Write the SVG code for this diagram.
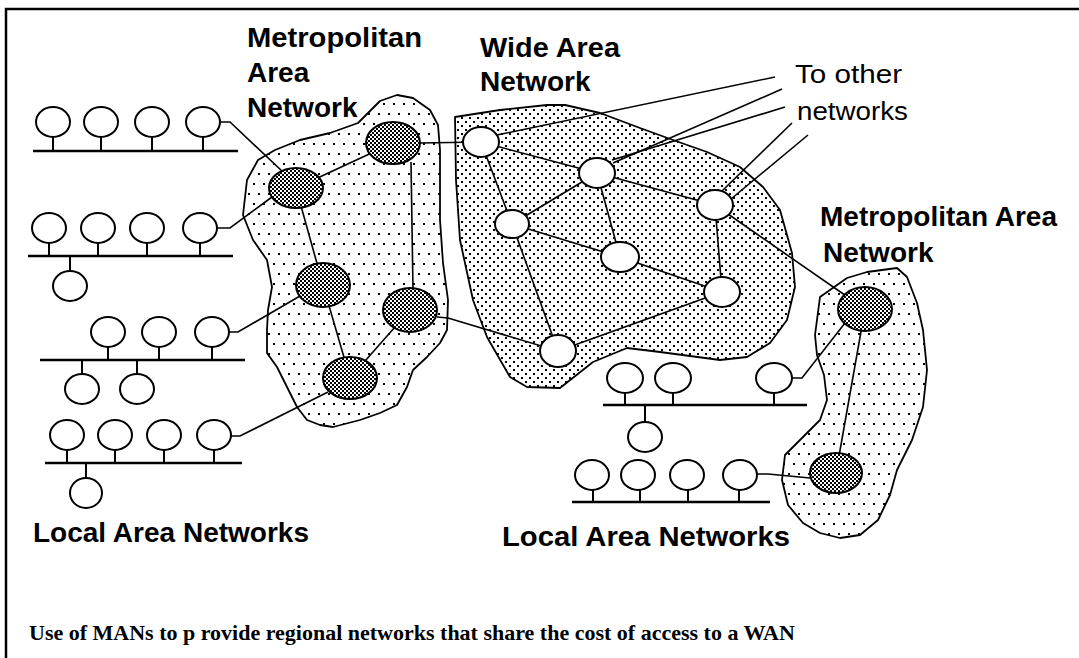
<svg xmlns="http://www.w3.org/2000/svg" width="1079" height="658" viewBox="0 0 1079 658">
<defs>
<pattern id="dotsLight" width="10" height="20" patternUnits="userSpaceOnUse"><rect x="3" y="3" width="2" height="2"/><rect x="8" y="13" width="2" height="2"/></pattern>
<pattern id="dotsDense" width="8" height="8" patternUnits="userSpaceOnUse"><rect x="1" y="1" width="2" height="2"/><rect x="5" y="5" width="2" height="2"/></pattern>
<pattern id="checker" width="4" height="4" patternUnits="userSpaceOnUse"><rect width="4" height="4" fill="#fff"/><rect width="2" height="2"/><rect x="2" y="2" width="2" height="2"/></pattern>
</defs>
<style>
.region{stroke:#000;stroke-width:1.8;stroke-linejoin:round}
.man{fill:url(#dotsLight)}
.wan{fill:url(#dotsDense)}
.conn line,.conn polyline{stroke:#000;stroke-width:1.6;fill:none}
.lan ellipse{fill:#fff;stroke:#000;stroke-width:2}
.lan line{stroke:#000;stroke-width:2}
.lan .bus{stroke-width:2.5}
.mnode{fill:url(#checker);stroke:#000;stroke-width:2}
.wnode{fill:#fff;stroke:#000;stroke-width:2}
.lbl{font-family:"Liberation Sans",Arial,sans-serif;font-weight:bold;font-size:28px;fill:#000}
.note{font-family:"Liberation Sans",Arial,sans-serif;font-size:26px;fill:#000}
.cap{font-family:"Liberation Serif","Times New Roman",serif;font-weight:bold;font-size:22px;fill:#000}
</style>
<rect width="1079" height="658" fill="#fff"/>
<path d="M6,658 V9 H1079" fill="none" stroke="#000" stroke-width="2.5"/>

<g id="regions">
<polygon id="man-left" class="region man" points="243,215 247,180 258,160 275,150 300,140 330,133 358,123 380,101 397,95 413,98 430,110 438,125 440,150 440,220 443,263 448,300 447,330 440,343 427,357 413,370 407,387 397,405 380,413 360,420 333,427 320,425 307,420 297,407 287,387 277,367 267,353 267,330 268,310 272,287 267,260 253,240"/>
<polygon id="wan" class="region wan" points="455,117 500,110 547,105 565,105 600,113 640,128 673,140 707,152 740,167 763,187 780,210 792,253 795,287 787,320 770,343 747,357 720,360 660,352 627,348 593,362 560,388 527,387 510,377 487,337 473,300 460,240 456,180"/>
<polygon id="man-right" class="region man" points="820,297 847,278 867,272 897,268 907,277 917,303 923,330 927,370 923,407 912,440 897,470 890,495 878,520 860,535 840,538 820,533 803,523 788,505 782,480 785,455 800,440 820,420 827,400 824,375 817,355 815,335"/>
</g>

<g id="connectors" class="conn">
<polyline points="221,122 230,122 283,172"/>
<polyline points="218,228 230,228 272,197"/>
<polyline points="229,332 238,332 300,296"/>
<polyline points="231,436 240,436 328,392"/>
<line x1="296" y1="188" x2="393" y2="143"/>
<line x1="296" y1="188" x2="323" y2="285"/>
<line x1="323" y1="285" x2="350" y2="378"/>
<line x1="411" y1="162" x2="413" y2="290"/>
<line x1="410" y1="310" x2="350" y2="378"/>
<polyline points="437,317 448,318 558,351"/>
<line x1="420" y1="143" x2="481" y2="142"/>
<line x1="481" y1="142" x2="597" y2="173"/>
<line x1="481" y1="142" x2="512" y2="224"/>
<line x1="597" y1="173" x2="512" y2="224"/>
<line x1="597" y1="173" x2="620" y2="257"/>
<line x1="597" y1="173" x2="715" y2="205"/>
<line x1="512" y1="224" x2="620" y2="257"/>
<line x1="715" y1="205" x2="722" y2="292"/>
<line x1="512" y1="224" x2="558" y2="351"/>
<line x1="620" y1="257" x2="722" y2="292"/>
<line x1="722" y1="292" x2="558" y2="351"/>
<line x1="715" y1="205" x2="865" y2="309"/>
<line x1="865" y1="309" x2="836" y2="473"/>
<polyline points="792,378 802,378 845,323"/>
<polyline points="757,474 768,474 810,478"/>
<line x1="497" y1="135" x2="775" y2="77"/>
<line x1="613" y1="163" x2="782" y2="89"/>
<line x1="612" y1="160" x2="785" y2="107"/>
<line x1="722" y1="191" x2="792" y2="123"/>
<line x1="731" y1="199" x2="808" y2="135"/>
</g>

<g id="lan1" class="lan">
<line class="bus" x1="33" y1="151" x2="238" y2="151"/>
<line x1="53" y1="137" x2="53" y2="151"/><line x1="101" y1="137" x2="101" y2="151"/><line x1="152" y1="137" x2="152" y2="151"/><line x1="203" y1="137" x2="203" y2="151"/>
<ellipse cx="53" cy="122" rx="17" ry="15"/><ellipse cx="101" cy="122" rx="17" ry="15"/><ellipse cx="152" cy="122" rx="17" ry="15"/><ellipse cx="203" cy="122" rx="17" ry="15"/>
</g>
<g id="lan2" class="lan">
<line class="bus" x1="28" y1="256" x2="233" y2="256"/>
<line x1="49" y1="243" x2="49" y2="256"/><line x1="98" y1="243" x2="98" y2="256"/><line x1="147" y1="243" x2="147" y2="256"/><line x1="200" y1="243" x2="200" y2="256"/><line x1="70" y1="256" x2="70" y2="271"/>
<ellipse cx="49" cy="228" rx="17" ry="15"/><ellipse cx="98" cy="228" rx="17" ry="15"/><ellipse cx="147" cy="228" rx="17" ry="15"/><ellipse cx="200" cy="228" rx="17" ry="15"/>
<ellipse cx="70" cy="286" rx="17" ry="15"/>
</g>
<g id="lan3" class="lan">
<line class="bus" x1="40" y1="360" x2="245" y2="360"/>
<line x1="108" y1="347" x2="108" y2="360"/><line x1="159" y1="347" x2="159" y2="360"/><line x1="212" y1="347" x2="212" y2="360"/><line x1="82" y1="360" x2="82" y2="374"/><line x1="137" y1="360" x2="137" y2="374"/>
<ellipse cx="108" cy="332" rx="17" ry="15"/><ellipse cx="159" cy="332" rx="17" ry="15"/><ellipse cx="212" cy="332" rx="17" ry="15"/>
<ellipse cx="82" cy="389" rx="17" ry="15"/><ellipse cx="137" cy="389" rx="17" ry="15"/>
</g>
<g id="lan4" class="lan">
<line class="bus" x1="45" y1="463" x2="242" y2="463"/>
<line x1="67" y1="450" x2="67" y2="463"/><line x1="115" y1="450" x2="115" y2="463"/><line x1="164" y1="450" x2="164" y2="463"/><line x1="214" y1="450" x2="214" y2="463"/><line x1="86" y1="463" x2="86" y2="478"/>
<ellipse cx="67" cy="435" rx="17" ry="15"/><ellipse cx="115" cy="435" rx="17" ry="15"/><ellipse cx="164" cy="435" rx="17" ry="15"/><ellipse cx="214" cy="435" rx="17" ry="15"/>
<ellipse cx="86" cy="493" rx="16" ry="15"/>
</g>
<g id="lan5" class="lan">
<line class="bus" x1="603" y1="405" x2="807" y2="405"/>
<line x1="625" y1="393" x2="625" y2="405"/><line x1="673" y1="393" x2="673" y2="405"/><line x1="774" y1="393" x2="774" y2="405"/><line x1="645" y1="405" x2="645" y2="422"/>
<ellipse cx="625" cy="378" rx="18" ry="15"/><ellipse cx="673" cy="378" rx="18" ry="15"/><ellipse cx="774" cy="378" rx="18" ry="15"/>
<ellipse cx="645" cy="437" rx="17" ry="15"/>
</g>
<g id="lan6" class="lan">
<line class="bus" x1="572" y1="502" x2="770" y2="502"/>
<line x1="593" y1="490" x2="593" y2="502"/><line x1="640" y1="490" x2="640" y2="502"/><line x1="688" y1="490" x2="688" y2="502"/><line x1="739" y1="490" x2="739" y2="502"/>
<ellipse cx="592" cy="475" rx="17" ry="15"/><ellipse cx="638" cy="475" rx="17" ry="15"/><ellipse cx="687" cy="475" rx="17" ry="15"/><ellipse cx="740" cy="475" rx="17" ry="15"/>
</g>

<g id="man-nodes">
<ellipse id="m1" class="mnode" cx="296" cy="188" rx="27" ry="20"/>
<ellipse id="m2" class="mnode" cx="393" cy="143" rx="27" ry="21"/>
<ellipse id="m3" class="mnode" cx="323" cy="285" rx="27" ry="22"/>
<ellipse id="m4" class="mnode" cx="410" cy="310" rx="27" ry="22"/>
<ellipse id="m5" class="mnode" cx="350" cy="378" rx="27" ry="21"/>
<ellipse id="r1" class="mnode" cx="865" cy="309" rx="27" ry="22"/>
<ellipse id="r2" class="mnode" cx="836" cy="473" rx="26" ry="20"/>
</g>
<g id="wan-nodes">
<ellipse id="w1" class="wnode" cx="481" cy="142" rx="18" ry="15"/>
<ellipse id="w2" class="wnode" cx="597" cy="173" rx="18" ry="15"/>
<ellipse id="w3" class="wnode" cx="512" cy="224" rx="17" ry="14"/>
<ellipse id="w4" class="wnode" cx="620" cy="257" rx="19" ry="15"/>
<ellipse id="w5" class="wnode" cx="715" cy="205" rx="18" ry="15"/>
<ellipse id="w6" class="wnode" cx="722" cy="292" rx="18" ry="15"/>
<ellipse id="w7" class="wnode" cx="558" cy="351" rx="18" ry="16"/>
</g>

<g id="labels">
<text class="lbl" x="247" y="47" textLength="175" lengthAdjust="spacingAndGlyphs">Metropolitan</text>
<text class="lbl" x="247" y="82">Area</text>
<text class="lbl" x="247" y="117">Network</text>
<text class="lbl" x="480" y="57" textLength="140" lengthAdjust="spacingAndGlyphs">Wide Area</text>
<text class="lbl" x="480" y="91">Network</text>
<text class="note" x="795" y="83" textLength="107" lengthAdjust="spacingAndGlyphs">To other</text>
<text class="note" x="797" y="120" textLength="111" lengthAdjust="spacingAndGlyphs">networks</text>
<text class="lbl" x="820" y="226">Metropolitan Area</text>
<text class="lbl" x="823" y="262">Network</text>
<text class="lbl" x="33" y="542">Local Area Networks</text>
<text class="lbl" x="502" y="546" textLength="288" lengthAdjust="spacingAndGlyphs">Local Area Networks</text>
<text class="cap" x="29" y="640">Use of MANs to p rovide regional networks that share the cost of access to a WAN</text>
</g>
</svg>
